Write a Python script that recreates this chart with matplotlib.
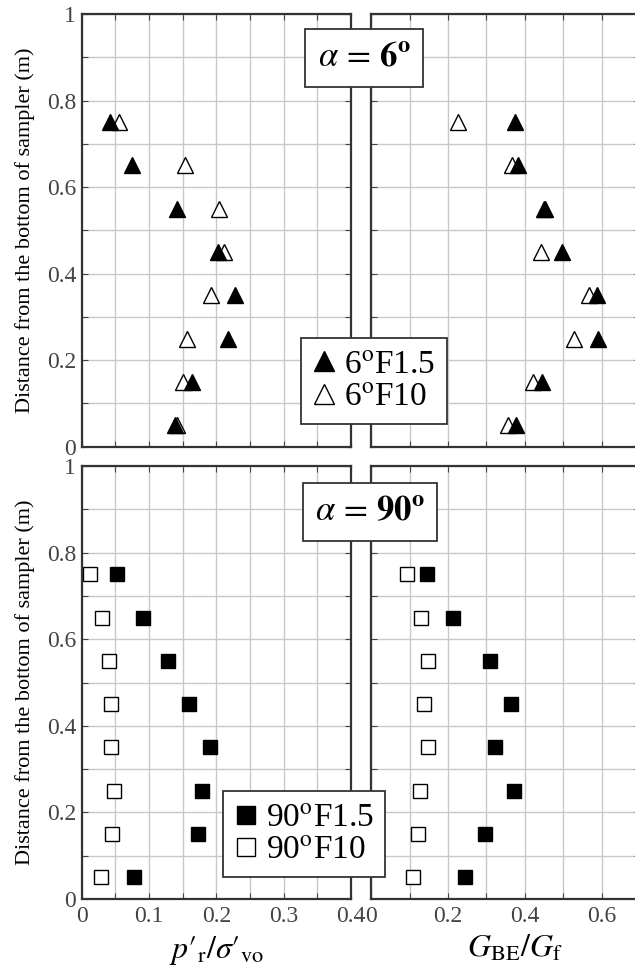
import numpy as np
import matplotlib
matplotlib.use("Agg")
import matplotlib.pyplot as plt
from matplotlib.ticker import FixedLocator, FuncFormatter
from matplotlib.lines import Line2D

plt.rcParams['font.family'] = ['Liberation Serif', 'DejaVu Serif']
plt.rcParams['mathtext.fontset'] = 'stix'

# depth levels (m)
depth = [0.75, 0.65, 0.55, 0.45, 0.35, 0.25, 0.15, 0.05]

# alpha = 6 deg
p6_f15 = [0.042, 0.075, 0.142, 0.203, 0.227, 0.217, 0.164, 0.138]
p6_f10 = [0.056, 0.154, 0.204, 0.211, 0.192, 0.156, 0.151, 0.141]
g6_f15 = [0.373, 0.381, 0.452, 0.495, 0.588, 0.589, 0.445, 0.376]
g6_f10 = [0.225, 0.365, 0.450, 0.442, 0.565, 0.526, 0.422, 0.355]

# alpha = 90 deg
p90_f15 = [0.053, 0.091, 0.128, 0.160, 0.190, 0.178, 0.173, 0.077]
p90_f10 = [0.013, 0.030, 0.040, 0.043, 0.043, 0.048, 0.045, 0.029]
g90_f15 = [0.145, 0.212, 0.310, 0.364, 0.322, 0.371, 0.296, 0.243]
g90_f10 = [0.093, 0.130, 0.147, 0.138, 0.148, 0.126, 0.123, 0.109]

fig = plt.figure(figsize=(6.35, 9.72), dpi=100)

W, H = 635.0, 972.0


def make_ax(x0, y0, x1, y1):
    return fig.add_axes([x0 / W, 1 - y1 / H, (x1 - x0) / W, (y1 - y0) / H])


def fmt(v, pos):
    return '%g' % round(v, 3)


def style(ax, xmax, xstep, xlabstep, show_x, show_y):
    ax.set_xlim(0, xmax)
    ax.set_ylim(0, 1)
    xt = np.round(np.arange(0, xmax + 1e-9, xstep), 3)
    yt = np.round(np.arange(0, 1.0001, 0.1), 3)
    ax.xaxis.set_major_locator(FixedLocator(xt))
    ax.yaxis.set_major_locator(FixedLocator(yt))
    ax.xaxis.set_major_formatter(FuncFormatter(
        lambda v, p: fmt(v, p) if abs(v / xlabstep - round(v / xlabstep)) < 1e-6 else ''))
    ax.yaxis.set_major_formatter(FuncFormatter(
        lambda v, p: fmt(v, p) if abs(v / 0.2 - round(v / 0.2)) < 1e-6 else ''))
    ax.grid(True, color='#c8c8c8', lw=1.0)
    ax.set_axisbelow(True)
    ax.tick_params(direction='in', top=True, right=True, length=4,
                   labelsize=17, labelcolor='#444444', color='#444444',
                   labelbottom=show_x, labelleft=show_y)
    ax.tick_params(axis='x', pad=5)
    ax.tick_params(axis='y', pad=4)
    for s in ax.spines.values():
        s.set_color('#333333')
        s.set_linewidth(1.6)


ax_tl = make_ax(81.7, 14, 351, 446.7)
ax_tr = make_ax(371, 14, 640.5, 446.7)
ax_bl = make_ax(81.7, 466, 351, 899)
ax_br = make_ax(371, 466, 640.5, 899)

style(ax_tl, 0.4, 0.05, 0.1, False, True)
style(ax_bl, 0.4, 0.05, 0.1, True, True)
style(ax_tr, 0.7, 0.1, 0.2, False, False)
style(ax_br, 0.7, 0.1, 0.2, True, False)

tri = dict(marker='^', ms=11, ls='none', mec='black', mew=1.0, clip_on=False)
sq = dict(marker='s', ms=9.5, ls='none', mec='black', mew=1.0, clip_on=False)

ax_tl.plot(p6_f10, depth, mfc='white', **tri)
ax_tl.plot(p6_f15, depth, mfc='black', **tri)
ax_tr.plot(g6_f10, depth, mfc='white', **tri)
ax_tr.plot(g6_f15, depth, mfc='black', **tri)

ax_bl.plot(p90_f10, depth, mfc='white', **sq)
ax_bl.plot(p90_f15, depth, mfc='black', **sq)
ax_br.plot(g90_f10, depth, mfc='white', **sq)
ax_br.plot(g90_f15, depth, mfc='black', **sq)

ylab = 'Distance from the bottom of sampler (m)'
ax_tl.set_ylabel(ylab, fontsize=16)
ax_bl.set_ylabel(ylab, fontsize=16)
ax_tl.yaxis.set_label_coords(-0.175, 0.5)
ax_bl.yaxis.set_label_coords(-0.175, 0.5)
ax_bl.set_xlabel(r"$p{\prime}_{\mathrm{r}}/\sigma{\prime}_{\mathrm{vo}}$", fontsize=23)
ax_br.set_xlabel(r"$G_{\mathrm{BE}}/G_{\mathrm{f}}$", fontsize=23)
ax_bl.xaxis.set_label_coords(0.5, -0.08)
ax_br.xaxis.set_label_coords(0.535, -0.08)

box = dict(boxstyle='square,pad=0.35', fc='white', ec='#333333', lw=1.3)
fig.text(364 / W, 1 - 58 / H, r"$\alpha\,=\,\mathbf{6^{o}}$", fontsize=25,
         ha='center', va='center', bbox=box)
fig.text(370 / W, 1 - 512 / H, r"$\alpha\,=\,\mathbf{90^{o}}$", fontsize=25,
         ha='center', va='center', bbox=box)

h6 = [Line2D([], [], mfc='black', **tri), Line2D([], [], mfc='white', **tri)]
l6 = [r"6$^{\mathrm{o}}$F1.5", r"6$^{\mathrm{o}}$F10"]
h90 = [Line2D([], [], mfc='black', **sq), Line2D([], [], mfc='white', **sq)]
l90 = [r"90$^{\mathrm{o}}$F1.5", r"90$^{\mathrm{o}}$F10"]

for hs, ls, cx, cy in [(h6, l6, 374.3, 381), (h90, l90, 304, 834)]:
    leg = fig.legend(hs, ls, loc='center', bbox_to_anchor=(cx / W, 1 - cy / H),
                     fontsize=24, frameon=True, fancybox=False, framealpha=1,
                     edgecolor='#333333', handlelength=0.7, handletextpad=0.25,
                     borderpad=0.35, labelspacing=0.05, borderaxespad=0,
                     markerscale=1.35)
    leg.get_frame().set_linewidth(1.3)

fig.savefig('out.png', dpi=100)
